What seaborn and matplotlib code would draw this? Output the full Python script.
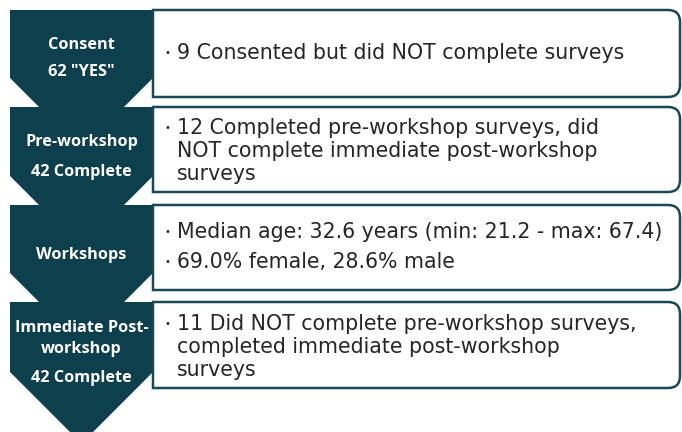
import matplotlib
matplotlib.use("Agg")
import matplotlib.pyplot as plt
import seaborn as sns
import numpy as np
from matplotlib.patches import Polygon, PathPatch
from matplotlib.path import Path

sns.set_theme(style="white")
plt.rcParams['font.family'] = ['DejaVu Sans']

# ---- data ----
stages = [["Consent"], ["Pre-workshop"], ["Workshops"], ["Immediate Post-", "workshop"]]
counts = ['62 "YES"', "42 Complete", "", "42 Complete"]
notes = [
    [["9 Consented but did NOT complete surveys"]],
    [["12 Completed pre-workshop surveys, did", "NOT complete immediate post-workshop", "surveys"]],
    [["Median age: 32.6 years (min: 21.2 - max: 67.4)"], ["69.0% female, 28.6% male"]],
    [["11 Did NOT complete pre-workshop surveys,", "completed immediate post-workshop", "surveys"]],
]

DARK = "#0e3f4c"
W, H = 682, 432
fig = plt.figure(figsize=(W / 100, H / 100), dpi=100)
ax = fig.add_axes([0, 0, 1, 1])
ax.set_xlim(0, W)
ax.set_ylim(H, 0)
ax.axis("off")

tops = [10, 107, 205, 302]
box_bottoms = [97, 192, 290, 388]
xl, xr = 10, 153
xc = (xl + xr) / 2
half = (xr - xl) / 2

for i in range(len(stages)):
    top = tops[i]
    shoulder = (tops[i + 1] - 29) if i + 1 < len(tops) else 372
    tip = shoulder + half
    ax.add_patch(Polygon([(xl, top), (xr, top), (xr, shoulder), (xc, tip), (xl, shoulder)],
                         closed=True, facecolor=DARK, edgecolor="none", zorder=3))


def right_round_box(x0, y0, x1, y1, r):
    verts = [(x0, y0), (x1 - r, y0), (x1, y0), (x1, y0 + r), (x1, y1 - r),
             (x1, y1), (x1 - r, y1), (x0, y1), (x0, y0)]
    codes = [Path.MOVETO, Path.LINETO, Path.CURVE3, Path.CURVE3, Path.LINETO,
             Path.CURVE3, Path.CURVE3, Path.LINETO, Path.CLOSEPOLY]
    return Path(verts, codes)


for i in range(len(stages)):
    y0, y1 = tops[i], box_bottoms[i]
    ax.add_patch(PathPatch(right_round_box(153, y0, 680, y1, 12), facecolor="white",
                           edgecolor="#1a4855", lw=1.8, zorder=4))

# left labels
left_y = [[45, 72], [142, 172], [255], [328, 349, 378]]
for i in range(len(stages)):
    lines = stages[i] + ([counts[i]] if counts[i] else [])
    for y, txt in zip(left_y[i], lines):
        ax.text(xc, y, txt, ha="center", va="center", color="white", fontsize=11.7,
                fontweight="bold", family=["Open Sans", "DejaVu Sans"], zorder=6)

# right notes
note_y = [[[53]], [[128, 151, 174]], [[232], [262]], [[324, 347, 370]]]
for ys_group, items in zip(note_y, notes):
    for ys, lines in zip(ys_group, items):
        ax.text(164, ys[0], "\u2022", ha="left", va="center", color="#262626",
                fontsize=7, zorder=6)
        for y, line in zip(ys, lines):
            ax.text(177, y, line, ha="left", va="center", color="#262626",
                    fontsize=14.8, zorder=6)

fig.savefig("out.png", dpi=100)
